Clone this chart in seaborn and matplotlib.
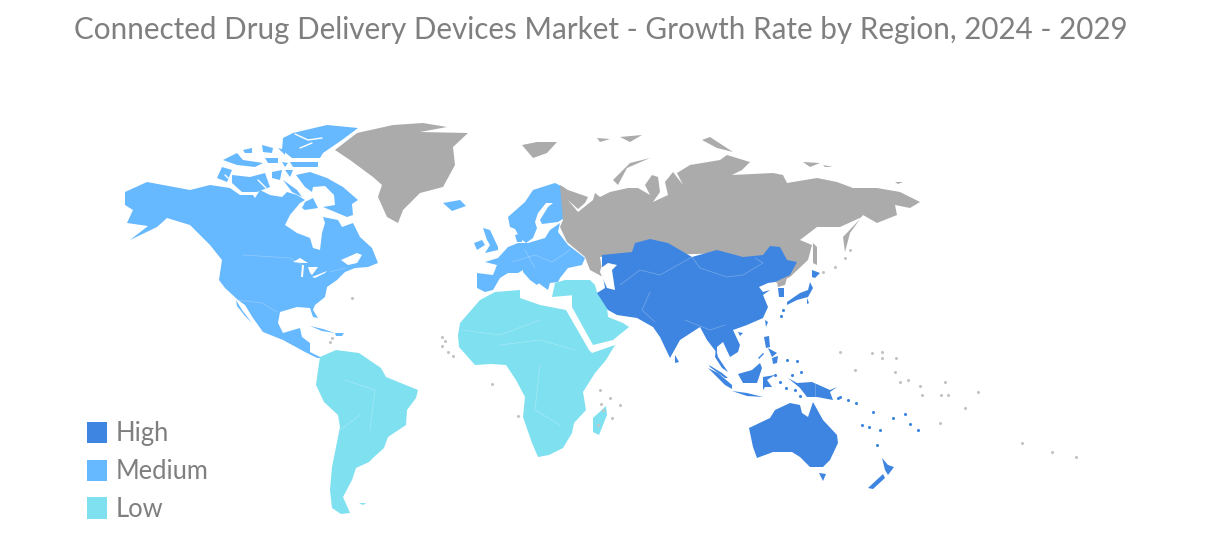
import pandas as pd
import seaborn as sns
import matplotlib.pyplot as plt
from matplotlib.patches import Patch

TITLE = 'Connected Drug Delivery Devices Market - Growth Rate by Region, 2024 - 2029'
LEVELS = ['High', 'Medium', 'Low']
COLORS = {'High': '#3D85E0', 'Medium': '#66B8FF', 'Low': '#7FE0F0', 'None': '#ABABAB', 'Water': '#FFFFFF'}

# Outlines, map units
north_america = [(125,192),(147,182),(190,190),(210,185),(230,188),(240,195),(253,195),(255,198),(260,190),(270,195),(282,197),(287,192),(297,195),(305,200),(300,203),(290,215),(285,225),(297,233),(310,238),(313,248),(320,250),(322,233),(325,223),(323,217),(338,220),(342,227),(353,223),(360,237),(372,248),(378,263),(368,267),(355,268),(345,272),(337,280),(327,287),(325,297),(315,305),(313,310),(318,318),(313,317),(310,308),(297,307),(280,312),(278,323),(283,333),(300,328),(302,337),(310,343),(310,352),(322,358),(317,358),(305,352),(283,340),(263,332),(253,318),(245,305),(238,300),(225,288),(219,280),(222,260),(210,245),(190,225),(167,218),(157,227),(130,240),(148,226),(127,223),(133,210),(125,205)]
baja = [(236,300),(242,310),(252,323),(245,316),(237,306)]
baffin = [(296,175),(310,172),(327,178),(343,187),(358,200),(352,204),(353,215),(347,217),(323,207),(335,205),(334,195),(325,186),(313,187),(312,192),(305,187)]
melville = [(305,202),(313,198),(318,208),(305,210),(302,208)]
victoria = [(232,175),(250,177),(265,173),(270,187),(257,192),(242,192),(232,183)]
banks = [(217,178),(222,167),(232,170),(227,182)]
ellesmere = [(283,138),(293,133),(327,125),(358,128),(342,140),(323,153),(320,158),(292,158),(282,150)]
queen_elizabeth = [(223,160),(237,153),(243,160),(263,163),(255,167),(237,165)]
devon = [(290,162),(318,162),(318,167),(293,167)]
axel = [(262,145),(273,148),(272,153),(263,152)]
prince_patrick = [(243,150),(252,148),(252,153),(245,153)]
cornwallis = [(278,148),(285,150),(285,155)]
bathurst = [(265,158),(278,158),(278,163),(268,163)]
byam = [(282,162),(288,163),(285,167)]
somerset = [(272,172),(282,170),(280,180),(272,178)]
prince_wales = [(285,170),(293,170),(290,177)]
boothia = [(283,180),(297,190),(302,197),(292,192)]
cuba = [(310,326),(323,329),(335,333),(322,331)]
hispaniola = [(335,333),(344,333),(342,336),(336,336)]
iceland = [(443,203),(460,200),(466,206),(452,211)]
scandinavia = [(508,217),(525,202),(533,190),(555,183),(565,188),(563,195),(566,217),(558,222),(542,224),(540,220),(548,207),(553,203),(546,203),(538,213),(535,222),(537,228),(533,238),(526,243),(520,238),(515,229),(510,227)]
denmark = [(515,235),(523,233),(522,242),(517,242)]
continent = [(485,262),(498,258),(508,247),(518,243),(528,243),(545,238),(550,230),(560,223),(558,232),(568,245),(585,258),(582,265),(568,268),(560,278),(558,282),(550,283),(548,290),(537,282),(523,270),(518,273),(508,273),(500,278),(493,290),(485,292),(477,288),(477,273),(493,275),(497,265)]
italy = [(523,268),(530,272),(540,282),(537,285),(530,280),(523,272)]
britain = [(483,228),(490,230),(498,247),(498,250),(485,253),(490,245),(487,240)]
ireland = [(474,243),(482,240),(485,245),(477,250)]
medium_shapes = [north_america, baja, baffin, melville, victoria, banks, ellesmere, queen_elizabeth, devon, axel, prince_patrick, cornwallis, bathurst, byam, somerset, prince_wales, boothia, cuba, hispaniola, iceland, scandinavia, denmark, continent, italy, britain, ireland]

africa = [(460,323),(480,300),(495,292),(520,290),(520,298),(540,305),(566,310),(589,350),(592,353),(615,345),(606,360),(595,373),(583,392),(586,410),(574,423),(572,433),(563,448),(549,455),(538,457),(532,443),(523,417),(525,397),(516,380),(506,365),(491,364),(475,365),(459,347),(458,335)]
turkey = [(555,283),(565,280),(590,280),(595,285),(597,292),(575,295),(552,297)]
arabia = [(572,292),(597,292),(607,307),(608,317),(623,323),(629,327),(613,340),(593,345),(572,307)]
madagascar = [(606,406),(607,415),(599,435),(593,432),(593,418)]
south_america = [(320,357),(336,350),(359,353),(381,368),(386,377),(418,390),(416,398),(407,410),(406,425),(388,437),(384,448),(374,457),(369,462),(356,468),(352,480),(343,497),(350,513),(341,514),(332,508),(330,490),(332,467),(340,427),(338,415),(324,402),(316,385),(318,370)]
falkland = [(359,503),(366,503),(363,505)]
low_shapes = [africa, turkey, arabia, madagascar, south_america, falkland]

asia = [(602,255),(632,252),(635,243),(650,239),(668,243),(692,257),(717,250),(743,257),(763,255),(770,246),(780,247),(787,260),(797,262),(790,275),(775,282),(768,283),(759,287),(763,292),(770,290),(763,295),(768,307),(763,318),(747,325),(733,330),(740,345),(738,352),(730,357),(723,342),(717,347),(717,353),(707,340),(700,327),(680,340),(670,358),(660,337),(653,327),(637,318),(617,315),(608,310),(597,293),(605,288),(602,270)]
malay = [(716,348),(718,357),(728,372),(722,368),(715,357)]
sri_lanka = [(675,355),(679,362),(675,363)]
hainan = [(738,332),(743,333),(740,336)]
taiwan = [(765,320),(768,322),(766,327)]
south_korea = [(778,288),(784,288),(784,297),(779,297)]
hokkaido = [(812,270),(820,273),(815,278),(812,277)]
honshu = [(810,282),(813,288),(808,297),(797,300),(787,305),(787,302),(800,293),(808,290)]
shikoku = [(807,298),(809,303),(807,304)]
sumatra = [(708,368),(718,373),(732,385),(732,389),(725,385)]
sumatra_north = [(709,365),(722,373),(728,378),(725,378),(710,367)]
borneo = [(738,374),(752,370),(760,363),(762,368),(757,383),(743,383)]
java = [(732,391),(747,393),(763,397),(747,396)]
sulawesi = [(763,377),(775,375),(767,380),(772,387),(765,387),(763,390)]
new_guinea = [(788,378),(797,383),(812,382),(830,390),(837,387),(830,392),(833,400),(817,397),(807,397),(800,388)]
luzon = [(764,337),(769,336),(770,347),(766,348)]
visayas = [(768,348),(777,353),(772,357)]
mindanao = [(772,358),(778,356),(777,363),(773,364)]
palawan = [(758,358),(763,353),(764,354),(759,359)]
australia = [(749,428),(770,418),(775,410),(790,403),(800,405),(802,413),(808,417),(813,402),(823,420),(837,435),(838,443),(830,460),(823,467),(810,467),(800,457),(792,452),(773,452),(757,458),(753,447)]
tasmania = [(819,473),(826,474),(823,481)]
nz_north = [(882,458),(888,465),(894,467),(888,475),(885,470)]
nz_south = [(883,474),(885,478),(873,489),(868,488)]
high_shapes = [asia, malay, sri_lanka, hainan, taiwan, south_korea, hokkaido, honshu, shikoku, sumatra, sumatra_north, borneo, java, sulawesi, new_guinea, luzon, visayas, mindanao, palawan, australia, tasmania, nz_north, nz_south]

greenland = [(335,150),(357,133),(393,125),(423,123),(447,127),(420,132),(468,133),(453,147),(455,165),(443,187),(420,193),(403,210),(398,223),(387,217),(378,197),(382,185),(373,177),(350,160)]
russia = [(560,185),(568,190),(588,197),(585,203),(578,209),(568,200),(578,212),(593,200),(595,193),(600,197),(610,192),(628,188),(638,188),(650,195),(645,185),(652,175),(658,177),(660,192),(653,202),(668,195),(665,182),(673,172),(683,185),(677,173),(690,165),(720,160),(727,155),(750,162),(742,170),(732,175),(773,173),(783,175),(787,183),(817,178),(837,182),(853,188),(877,188),(900,192),(920,202),(910,208),(895,205),(897,215),(877,223),(863,215),(850,233),(845,252),(843,237),(862,217),(840,227),(817,227),(800,240),(812,245),(808,260),(790,277),(777,283),(773,280),(727,253),(600,257),(603,277),(590,270),(585,257),(567,242),(560,227),(563,220)]
north_korea = [(777,283),(787,278),(785,285),(778,287)]
sakhalin = [(813,243),(817,247),(817,265),(813,263)]
svalbard = [(522,145),(537,142),(557,142),(547,153),(533,158)]
novaya_zemlya = [(650,158),(630,163),(613,180),(618,185),(627,168)]
franz_josef = [(597,138),(610,139),(600,142)]
franz_josef_east = [(620,137),(642,135),(630,142)]
severnaya = [(702,140),(710,137),(733,152),(717,148)]
new_siberian = [(803,162),(820,163),(810,167)]
lyakhov = [(823,165),(833,167),(825,167)]
wrangel = [(895,182),(903,182),(898,184)]
grey_shapes = [greenland, russia, north_korea, sakhalin, svalbard, novaya_zemlya, franz_josef, franz_josef_east, severnaya, new_siberian, lyakhov, wrangel]

# Water cut out of the land
superior = [(293,262),(300,258),(308,263),(302,263)]
michigan = [(302,265),(304,265),(303,277),(301,277)]
huron = [(308,267),(318,267),(312,275),(310,273)]
erie = [(312,277),(327,271),(325,273),(315,278)]
st_lawrence = [(341,260),(357,253),(362,255),(357,263),(348,265)]
caspian = [(601,268),(608,263),(617,265),(612,270),(615,290),(607,288),(600,272)]
water_shapes = [superior, michigan, huron, erie, st_lawrence, caspian]
fjord_lines = [[(295,134),(308,140),(322,138)], [(300,148),(312,143)], [(225,175),(228,178)], [(258,180),(266,188)]]

# Small specks and islands
speck_x = [352,332,330,442,445,442,448,453,518,601,603,612,598,492,855,882,896,840,900,920,945,948,978,1022,1052,1076,872,882,895,908,922,941,965,940,600,610,620,823,835,845,850]
speck_y = [298,338,342,337,341,346,352,356,416,404,410,418,425,384,370,352,358,352,382,386,382,395,392,443,452,457,353,358,372,380,395,395,408,423,390,398,405,272,267,258,250]
blue_speck_x = [783,781,787,797,801,806,815,825,838,862,869,873,880,893,905,910,918,840,848,856,877,775,780,786,792,795,800]
blue_speck_y = [310,316,360,361,372,385,387,393,398,425,427,412,430,418,414,424,430,397,400,403,445,375,382,388,375,390,396]

# Thin borders inside the regions
border_lines = [
    [(243,255),(290,258),(302,265)], [(330,272),(345,268)], [(237,300),(262,303),(277,312)],
    [(512,262),(535,255),(552,262),(570,250)], [(525,250),(535,268)], [(620,285),(640,270),(660,275),(692,257)],
    [(692,257),(700,268),(727,277),(743,275),(763,263),(755,258)], [(650,292),(642,310),(655,322)],
    [(685,320),(710,330),(725,325)], [(462,330),(500,335),(540,320)], [(500,345),(540,340),(575,350)],
    [(540,365),(535,410),(560,425)], [(345,380),(375,390),(370,430)], [(340,430),(360,415)],
    [(815,382),(815,397)],
]

sns.set_theme(style='white')
plt.rcParams['font.family'] = ['Lato', 'DejaVu Sans']

fig, ax = plt.subplots(figsize=(12.19, 5.46), dpi=100)
ax.set_position([0, 0, 1, 1])

for shape in medium_shapes:
    ax.fill(*zip(*shape), color=COLORS['Medium'], lw=0)
for shape in low_shapes:
    ax.fill(*zip(*shape), color=COLORS['Low'], lw=0)
for shape in grey_shapes:
    ax.fill(*zip(*shape), color=COLORS['None'], lw=0)
for shape in high_shapes:
    ax.fill(*zip(*shape), color=COLORS['High'], lw=0)
for shape in water_shapes:
    ax.fill(*zip(*shape), color=COLORS['Water'], lw=0)

for line in fjord_lines:
    ax.plot(*zip(*line), color='white', lw=1)
for line in border_lines:
    ax.plot(*zip(*line), color='white', alpha=0.25, lw=0.6)

specks = pd.DataFrame({'x': speck_x, 'y': speck_y})
blue_specks = pd.DataFrame({'x': blue_speck_x, 'y': blue_speck_y})
sns.scatterplot(specks, x='x', y='y', color='#C4C4C4', s=5, linewidth=0, ax=ax)
sns.scatterplot(blue_specks, x='x', y='y', color=COLORS['High'], s=5, linewidth=0, ax=ax)

ax.set_xlim(0, 1219)
ax.set_ylim(546, 0)
ax.axis('off')

ax.text(601, 30, TITLE, color='#7F7F7F', fontsize=21.3, ha='center', va='center')

handles = [Patch(color=COLORS[level], lw=0) for level in LEVELS]
ax.legend(handles, LEVELS, loc='lower left', bbox_to_anchor=(0.0525, 0.002), frameon=False,
          fontsize=18.4, labelcolor='#7F7F7F', handlelength=0.8, handleheight=0.9,
          handletextpad=0.32, labelspacing=0.5)

fig.savefig('out.png', dpi=100)
